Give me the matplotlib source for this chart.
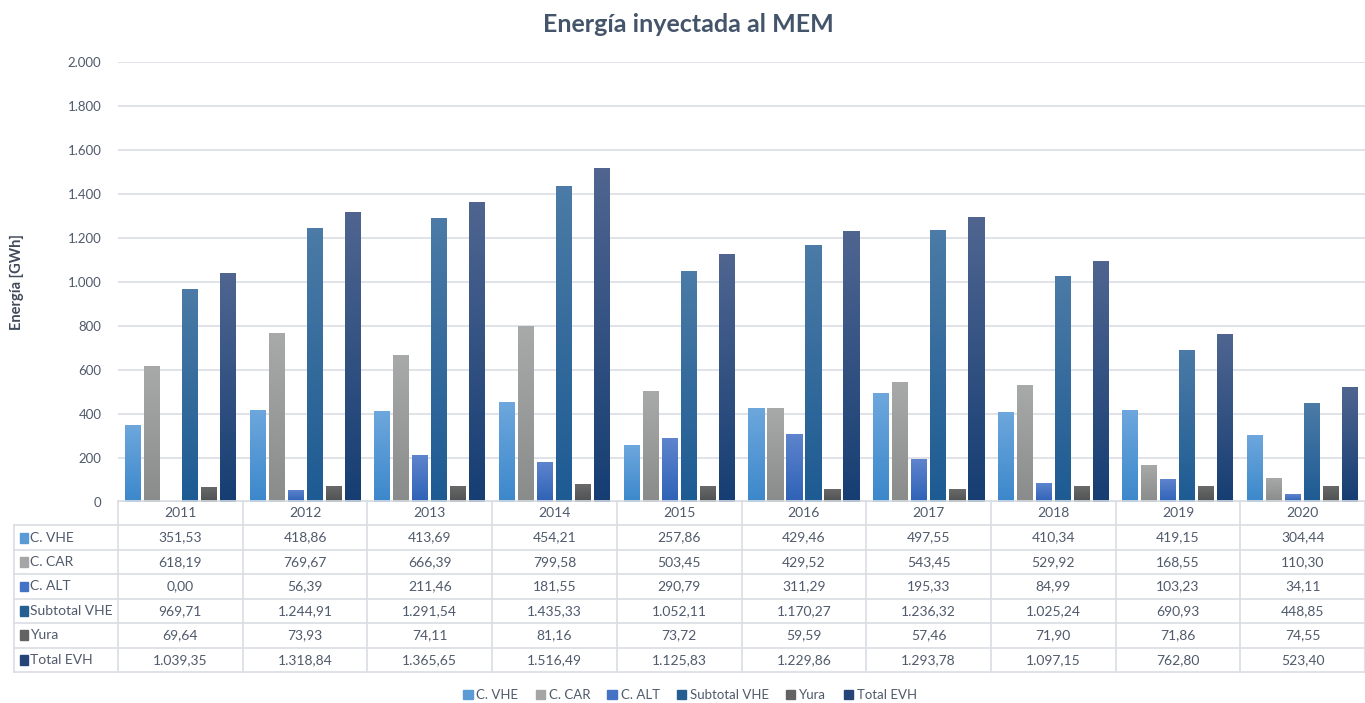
import numpy as np
import matplotlib
matplotlib.use("Agg")
import matplotlib.pyplot as plt
from matplotlib.patches import Rectangle
from matplotlib.colors import LinearSegmentedColormap

years = ["2011", "2012", "2013", "2014", "2015", "2016", "2017", "2018", "2019", "2020"]
series_names = ["C. VHE", "C. CAR", "C. ALT", "Subtotal VHE", "Yura", "Total EVH"]
c_vhe = [351.53, 418.86, 413.69, 454.21, 257.86, 429.46, 497.55, 410.34, 419.15, 304.44]
c_car = [618.19, 769.67, 666.39, 799.58, 503.45, 429.52, 543.45, 529.92, 168.55, 110.30]
c_alt = [0.00, 56.39, 211.46, 181.55, 290.79, 311.29, 195.33, 84.99, 103.23, 34.11]
subtotal_vhe = [969.71, 1244.91, 1291.54, 1435.33, 1052.11, 1170.27, 1236.32, 1025.24, 690.93, 448.85]
yura = [69.64, 73.93, 74.11, 81.16, 73.72, 59.59, 57.46, 71.90, 71.86, 74.55]
total_evh = [1039.35, 1318.84, 1365.65, 1516.49, 1125.83, 1229.86, 1293.78, 1097.15, 762.80, 523.40]
series_values = [c_vhe, c_car, c_alt, subtotal_vhe, yura, total_evh]
y_ticks = [0, 200, 400, 600, 800, 1000, 1200, 1400, 1600, 1800, 2000]

# (top colour, bottom colour, legend colour)
grads = [("#6DA7DD", "#3C88CB", "#5B9BD5"),
         ("#A8AAAA", "#8A8C8C", "#A5A5A5"),
         ("#5E84CD", "#2E62B6", "#4472C4"),
         ("#4B7BA6", "#1D5B93", "#255E91"),
         ("#6A6A6A", "#4E5152", "#636363"),
         ("#4F6590", "#163E73", "#264478")]

TXT = "#4F5A6B"
GRID = "#D9DEE4"

def fmt(v):
    s = f"{v:,.2f}"
    return s.replace(",", "X").replace(".", ",").replace("X", ".")

def fmt_int(v):
    return f"{int(v):,}".replace(",", ".")

W, H = 1365, 703
fig = plt.figure(figsize=(W / 100, H / 100), dpi=100)
plt.rcParams['font.family'] = ['Lato', 'DejaVu Sans']

ax = fig.add_axes([118 / W, (H - 502) / H, (W - 118) / W, (502 - 62) / H])
ax.set_xlim(-0.5, 9.5)
ax.set_ylim(0, 2000)
for s in ax.spines.values():
    s.set_visible(False)
ax.set_xticks([])
ax.set_yticks(y_ticks)
ax.set_yticklabels([fmt_int(t) for t in y_ticks], color=TXT, fontsize=9.5)
ax.tick_params(axis="y", length=0, pad=12)
ax.yaxis.grid(True, color=GRID, linewidth=1.2)
ax.set_axisbelow(True)

x = np.arange(len(years))
step = 19 / 124.7
bw = 16 / 124.7
for k, vals in enumerate(series_values):
    top, bot, leg = grads[k]
    cmap = LinearSegmentedColormap.from_list(f"g{k}", [bot, top])
    bars = ax.bar(x + (k - 2.5) * step, vals, width=bw, color=leg, zorder=2, linewidth=0)
    for b in bars:
        h = b.get_height()
        if h <= 0:
            continue
        x0 = b.get_x()
        im = ax.imshow(np.linspace(0, 1, 64).reshape(-1, 1), cmap=cmap, origin="lower",
                       extent=[x0, x0 + b.get_width(), 0, h], aspect="auto", zorder=3,
                       interpolation="bilinear")
        im.set_clip_path(b)
ax.set_xlim(-0.5, 9.5)
ax.set_ylim(0, 2000)

fig.text(688 / W, 1 - 25 / H, "Energía inyectada al MEM", ha="center", va="center",
         fontsize=18, fontweight="bold", color="#44546A")
fig.text(17 / W, 1 - 282 / H, "Energía [GWh]", ha="center", va="center", rotation=90,
         fontsize=10.5, fontweight="bold", color="#404a5a")

# table
L = (118 - 14) / 124.7
tax = fig.add_axes([14 / W, (H - 672) / H, (W - 14) / W, (672 - 501) / H])
tax.set_xlim(-0.5 - L, 9.5)
tax.set_ylim(7, 0)
tax.axis("off")
lw = 1.2
tax.plot([-0.5, 9.5], [0, 0], color=GRID, lw=lw, clip_on=False)
for r in range(1, 8):
    tax.plot([-0.5 - L, 9.5], [r, r], color=GRID, lw=lw, clip_on=False)
tax.plot([-0.5 - L, -0.5 - L], [1, 7], color=GRID, lw=lw, clip_on=False)
for c in range(0, 11):
    tax.plot([c - 0.5, c - 0.5], [0, 7], color=GRID, lw=lw, clip_on=False)
for i, yv in enumerate(years):
    tax.text(i, 0.5, yv, ha="center", va="center", fontsize=10, color=TXT)
for k, name in enumerate(series_names):
    r = k + 1.5
    tax.add_patch(Rectangle((-0.5 - L + 0.045, r - 0.2), 0.065, 0.4,
                            color=grads[k][2], clip_on=False))
    tax.text(-0.5 - L + 0.125, r, name, ha="left", va="center", fontsize=10, color=TXT)
    for i, v in enumerate(series_values[k]):
        tax.text(i, r, fmt(v), ha="center", va="center", fontsize=10, color=TXT)

handles = [Rectangle((0, 0), 1, 1, color=g[2]) for g in grads]
fig.legend(handles, series_names, loc="center", bbox_to_anchor=(690 / W, 1 - 695 / H),
           ncol=6, frameon=False, fontsize=9.5, handlelength=0.7, handleheight=0.7,
           handletextpad=0.3, columnspacing=1.3, labelcolor=TXT)

fig.savefig("out.png", dpi=100)
